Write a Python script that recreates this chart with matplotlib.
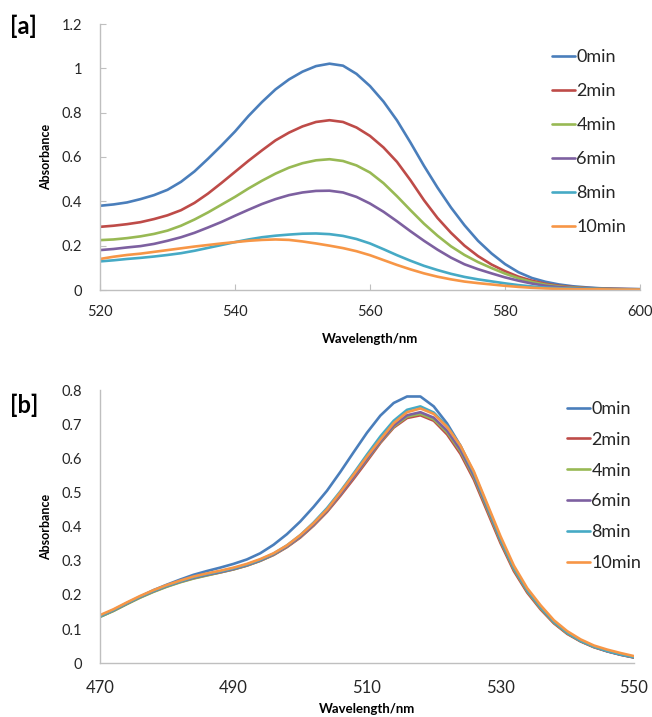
import matplotlib
matplotlib.use("Agg")
import matplotlib.pyplot as plt
from matplotlib.ticker import FormatStrFormatter, MultipleLocator

plt.rcParams['font.family'] = ['Lato', 'DejaVu Sans']

labels = ["0min", "2min", "4min", "6min", "8min", "10min"]
colors = ["#4A7EBB", "#BE4B48", "#98B954", "#7D60A0", "#46AAC5", "#F79646"]

# ---------- panel a ----------
wl_a = list(range(520, 601, 2))
a_0 = [0.380, 0.386, 0.395, 0.410, 0.428, 0.452, 0.488, 0.535, 0.592, 0.652,
       0.715, 0.785, 0.848, 0.905, 0.950, 0.985, 1.010, 1.021, 1.012, 0.975,
       0.920, 0.850, 0.765, 0.665, 0.560, 0.462, 0.372, 0.292, 0.222, 0.165,
       0.117, 0.080, 0.054, 0.037, 0.025, 0.017, 0.012, 0.008, 0.006, 0.005, 0.004]
a_2 = [0.285, 0.290, 0.297, 0.306, 0.320, 0.337, 0.360, 0.393, 0.435, 0.483,
       0.533, 0.583, 0.630, 0.675, 0.710, 0.738, 0.758, 0.766, 0.758, 0.733,
       0.695, 0.643, 0.578, 0.495, 0.405, 0.325, 0.258, 0.200, 0.153, 0.115,
       0.085, 0.060, 0.042, 0.028, 0.019, 0.013, 0.009, 0.007, 0.005, 0.004, 0.003]
a_4 = [0.225, 0.228, 0.234, 0.242, 0.253, 0.268, 0.290, 0.318, 0.350, 0.385,
       0.420, 0.458, 0.493, 0.525, 0.552, 0.572, 0.585, 0.590, 0.582, 0.562,
       0.530, 0.482, 0.423, 0.360, 0.299, 0.245, 0.197, 0.158, 0.126, 0.099,
       0.074, 0.053, 0.036, 0.024, 0.016, 0.011, 0.008, 0.006, 0.004, 0.003, 0.003]
a_6 = [0.180, 0.185, 0.192, 0.198, 0.208, 0.222, 0.238, 0.258, 0.282, 0.307,
       0.335, 0.362, 0.388, 0.410, 0.428, 0.440, 0.447, 0.448, 0.440, 0.420,
       0.390, 0.353, 0.310, 0.265, 0.222, 0.182, 0.146, 0.116, 0.094, 0.075,
       0.057, 0.042, 0.029, 0.019, 0.013, 0.009, 0.006, 0.005, 0.004, 0.003, 0.003]
a_8 = [0.129, 0.134, 0.140, 0.145, 0.151, 0.158, 0.166, 0.177, 0.190, 0.203,
       0.216, 0.228, 0.238, 0.245, 0.250, 0.254, 0.255, 0.252, 0.244, 0.230,
       0.210, 0.184, 0.157, 0.132, 0.109, 0.090, 0.073, 0.059, 0.048, 0.039,
       0.030, 0.022, 0.016, 0.011, 0.008, 0.006, 0.005, 0.004, 0.003, 0.003, 0.002]
a_10 = [0.140, 0.150, 0.158, 0.164, 0.172, 0.180, 0.188, 0.196, 0.203, 0.210,
        0.216, 0.222, 0.226, 0.228, 0.226, 0.219, 0.210, 0.200, 0.189, 0.175,
        0.157, 0.135, 0.113, 0.093, 0.075, 0.060, 0.048, 0.038, 0.031, 0.025,
        0.019, 0.014, 0.010, 0.007, 0.005, 0.004, 0.003, 0.003, 0.002, 0.002, 0.002]

# ---------- panel b ----------
wl_b = list(range(470, 551, 2))
b_0 = [0.136, 0.154, 0.174, 0.195, 0.214, 0.230, 0.245, 0.259, 0.270, 0.280,
       0.291, 0.304, 0.322, 0.347, 0.378, 0.415, 0.458, 0.505, 0.560, 0.618,
       0.675, 0.725, 0.762, 0.781, 0.781, 0.752, 0.702, 0.637, 0.555, 0.460,
       0.362, 0.276, 0.211, 0.162, 0.119, 0.088, 0.065, 0.048, 0.035, 0.025, 0.017]
b_2 = [0.137, 0.154, 0.174, 0.193, 0.210, 0.225, 0.238, 0.249, 0.258, 0.266,
       0.275, 0.286, 0.300, 0.317, 0.340, 0.368, 0.403, 0.443, 0.490, 0.540,
       0.592, 0.645, 0.690, 0.718, 0.726, 0.710, 0.670, 0.613, 0.538, 0.445,
       0.352, 0.270, 0.207, 0.158, 0.117, 0.086, 0.064, 0.047, 0.035, 0.025, 0.017]
b_4 = [0.136, 0.153, 0.173, 0.192, 0.209, 0.224, 0.237, 0.248, 0.257, 0.266,
       0.275, 0.286, 0.300, 0.318, 0.341, 0.370, 0.405, 0.446, 0.494, 0.545,
       0.597, 0.648, 0.693, 0.722, 0.730, 0.714, 0.676, 0.620, 0.545, 0.452,
       0.358, 0.275, 0.211, 0.161, 0.119, 0.088, 0.065, 0.048, 0.036, 0.026, 0.018]
b_6 = [0.138, 0.155, 0.175, 0.194, 0.211, 0.226, 0.239, 0.250, 0.259, 0.267,
       0.276, 0.287, 0.301, 0.319, 0.342, 0.371, 0.406, 0.447, 0.495, 0.546,
       0.599, 0.650, 0.696, 0.726, 0.735, 0.719, 0.681, 0.625, 0.550, 0.457,
       0.362, 0.279, 0.214, 0.164, 0.121, 0.090, 0.066, 0.049, 0.036, 0.026, 0.018]
b_8 = [0.138, 0.156, 0.176, 0.195, 0.212, 0.227, 0.240, 0.252, 0.261, 0.269,
       0.278, 0.289, 0.303, 0.321, 0.345, 0.375, 0.412, 0.454, 0.503, 0.556,
       0.611, 0.664, 0.710, 0.742, 0.752, 0.734, 0.694, 0.636, 0.558, 0.462,
       0.365, 0.280, 0.215, 0.165, 0.122, 0.090, 0.066, 0.049, 0.036, 0.026, 0.018]
b_10 = [0.141, 0.158, 0.178, 0.197, 0.214, 0.229, 0.242, 0.254, 0.263, 0.271,
        0.280, 0.291, 0.305, 0.322, 0.345, 0.375, 0.410, 0.450, 0.500, 0.552,
        0.605, 0.655, 0.703, 0.735, 0.746, 0.730, 0.692, 0.637, 0.562, 0.467,
        0.372, 0.286, 0.220, 0.170, 0.126, 0.094, 0.070, 0.052, 0.040, 0.030, 0.021]

xticks_b = [470, 490, 510, 530, 550]

series_a = [a_0, a_2, a_4, a_6, a_8, a_10]
series_b = [b_0, b_2, b_4, b_6, b_8, b_10]

fig = plt.figure(figsize=(6.52, 7.17), dpi=100)
W, H = 652.0, 717.0

def style(ax, ticklen):
    for s in ("top", "right"):
        ax.spines[s].set_visible(False)
    for s in ("left", "bottom"):
        ax.spines[s].set_color("#BFBFBF")
        ax.spines[s].set_linewidth(1.0)
    ax.tick_params(axis="both", direction="in", length=ticklen, color="#BFBFBF",
                   labelsize=10.5, labelcolor="#262626")
    ax.tick_params(axis="y", pad=13)
    ax.tick_params(axis="x", pad=11)
    ax.yaxis.set_major_formatter(FormatStrFormatter("%g"))

# panel a
axa = fig.add_axes([100 / W, 1 - 290 / H, 540 / W, 266 / H])
for vals, c, lab in zip(series_a, colors, labels):
    axa.plot(wl_a, vals, color=c, lw=1.9, label=lab, solid_capstyle="round")
axa.set_xlim(520, 600)
axa.set_ylim(0, 1.2)
axa.xaxis.set_major_locator(MultipleLocator(20))
axa.yaxis.set_major_locator(MultipleLocator(0.2))
style(axa, 4)
axa.set_xlabel("Wavelength/nm", fontsize=9.5, fontweight="bold")
axa.set_ylabel("Absorbance", fontsize=9, fontweight="bold")
axa.xaxis.set_label_coords(0.5, -0.162)
axa.yaxis.set_label_coords(-0.089, 0.5)
axa.legend(loc="upper left", bbox_to_anchor=(552 / W, 1 - 49 / H),
           bbox_transform=fig.transFigure, frameon=False, fontsize=13,
           handlelength=1.25, handletextpad=0.1, labelspacing=1.0,
           borderpad=0, borderaxespad=0, labelcolor="#262626")
fig.text(10 / W, 1 - 26 / H, "[a]", fontsize=17, fontweight="bold", va="center", ha="left")

# panel b
axb = fig.add_axes([100 / W, 1 - 663.3 / H, 534 / W, 273.3 / H])
for vals, c, lab in zip(series_b, colors, labels):
    axb.plot(wl_b, vals, color=c, lw=1.9, label=lab, solid_capstyle="round")
axb.set_xlim(470, 550)
axb.set_ylim(0, 0.8)
axb.set_xticks(xticks_b)
axb.yaxis.set_major_locator(MultipleLocator(0.1))
style(axb, 0)
axb.tick_params(axis="x", labelsize=12, pad=12)
axb.set_xlabel("Wavelength/nm", fontsize=9.5, fontweight="bold")
axb.set_ylabel("Absorbance", fontsize=9, fontweight="bold")
axb.xaxis.set_label_coords(0.5, -0.145)
axb.yaxis.set_label_coords(-0.09, 0.5)
axb.legend(loc="upper left", bbox_to_anchor=(567 / W, 1 - 401 / H),
           bbox_transform=fig.transFigure, frameon=False, fontsize=13,
           handlelength=1.25, handletextpad=0.1, labelspacing=0.82,
           borderpad=0, borderaxespad=0, labelcolor="#262626")
fig.text(10 / W, 1 - 405 / H, "[b]", fontsize=17, fontweight="bold", va="center", ha="left")

fig.savefig("out.png", dpi=100, facecolor="white")
